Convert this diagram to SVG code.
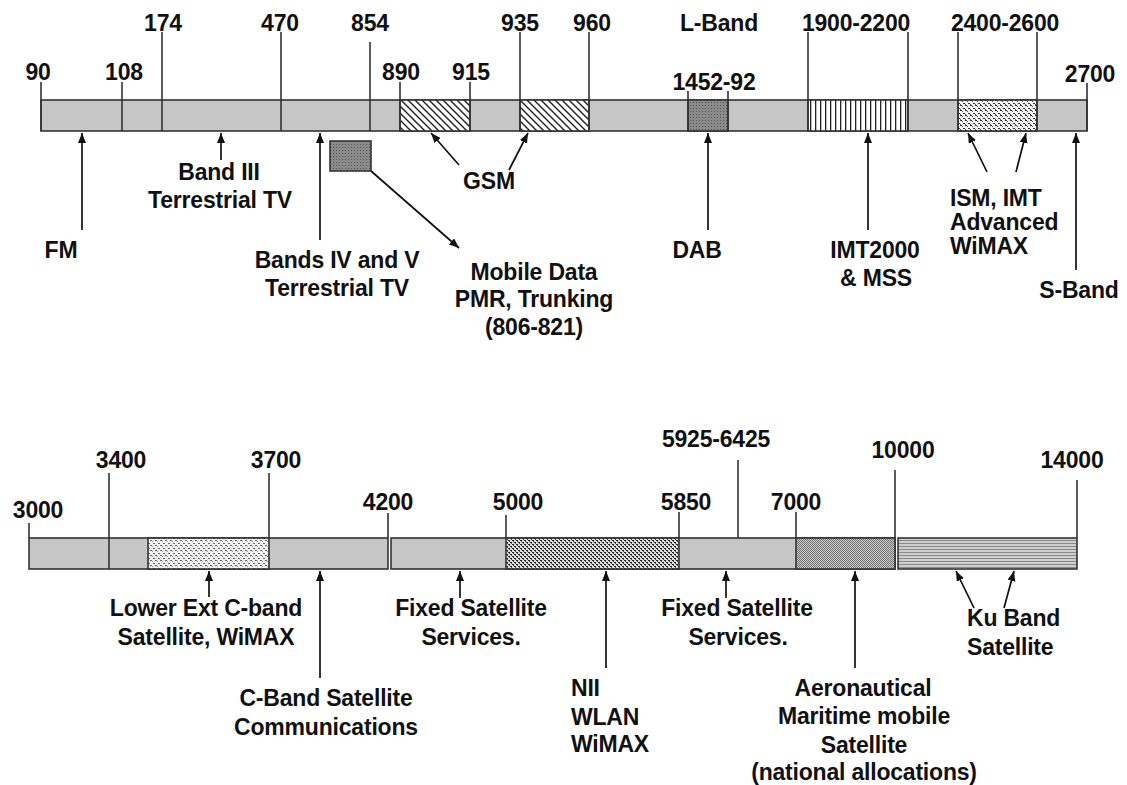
<svg xmlns="http://www.w3.org/2000/svg" width="1127" height="785" viewBox="0 0 1127 785">
<style>
text{font-family:"Liberation Sans",Arial,sans-serif;font-weight:bold;font-size:23px;letter-spacing:-0.2px;fill:#111}
.c{text-anchor:middle}
.bar{fill:#c6c6c6;stroke:#333;stroke-width:1.6}
.pat{stroke:#333;stroke-width:1.6}
.tk{stroke:#333;stroke-width:1.6;fill:none}
.ar{stroke:#111;stroke-width:1.7;fill:none;marker-end:url(#ah)}
</style>
<defs>
<marker id="ah" markerUnits="userSpaceOnUse" markerWidth="10" markerHeight="10" refX="10" refY="4" orient="auto"><path d="M0,0 L10,4 L0,8 z" fill="#111"/></marker>
<pattern id="diag" width="7" height="7" patternUnits="userSpaceOnUse"><rect width="7" height="7" fill="#fff"/><path d="M-1,-1 L8,8 M-1,6 L1,8 M6,-1 L8,1" stroke="#222" stroke-width="1.4"/></pattern>
<pattern id="vl" width="5" height="5" patternUnits="userSpaceOnUse"><rect width="5" height="5" fill="#fff"/><rect x="0" width="1.3" height="5" fill="#222"/></pattern>
<pattern id="dab" width="3" height="3" patternUnits="userSpaceOnUse"><rect width="3" height="3" fill="#8a8a8a"/><rect width="1" height="1" fill="#555"/></pattern>
<pattern id="ism" width="5" height="5" patternUnits="userSpaceOnUse"><rect width="5" height="5" fill="#f4f4f4"/><rect x="0" y="0" width="2" height="1" fill="#333"/><rect x="2" y="1" width="1" height="1" fill="#555"/><rect x="3" y="3" width="2" height="1" fill="#333"/><rect x="0" y="4" width="1" height="1" fill="#555"/></pattern>
<pattern id="lowext" width="5" height="5" patternUnits="userSpaceOnUse"><rect width="5" height="5" fill="#f2f2f2"/><rect x="0" y="0" width="2" height="1" fill="#666"/><rect x="3" y="3" width="2" height="1" fill="#666"/><rect x="2" y="1" width="1" height="1" fill="#999"/></pattern>
<pattern id="nii" width="4" height="4" patternUnits="userSpaceOnUse"><rect width="4" height="4" fill="#ddd"/><rect x="0" y="0" width="2" height="1" fill="#222"/><rect x="2" y="2" width="2" height="1" fill="#222"/><rect x="1" y="1" width="1" height="1" fill="#555"/><rect x="3" y="3" width="1" height="1" fill="#555"/></pattern>
<pattern id="chk" width="2" height="2" patternUnits="userSpaceOnUse"><rect width="2" height="2" fill="#c8c8c8"/><rect width="1" height="1" fill="#777"/><rect x="1" y="1" width="1" height="1" fill="#777"/></pattern>
<pattern id="hl" width="4" height="3" patternUnits="userSpaceOnUse"><rect width="4" height="3" fill="#cfcfcf"/><rect y="0" width="4" height="1" fill="#8a8a8a"/></pattern>
</defs>

<g id="top-bar">
<rect class="bar" x="41" y="100" width="1046" height="31"/>
<rect class="pat" x="400" y="100" width="70" height="31" fill="url(#diag)"/>
<rect class="pat" x="520" y="100" width="69" height="31" fill="url(#diag)"/>
<rect class="pat" x="688" y="100" width="40" height="31" fill="url(#dab)"/>
<rect class="pat" x="808" y="100" width="100" height="31" fill="url(#vl)"/>
<rect class="pat" x="958" y="100" width="79" height="31" fill="url(#ism)"/>
</g>
<g id="top-ticks">
<path class="tk" d="M41,82V131 M122,82V131 M162,32V131 M281,32V131 M370,42V131 M400,82V131 M470,82V131 M520,32V131 M589,32V131 M688,91V131 M728,91V131 M808,32V131 M908,32V131 M958,32V131 M1037,32V131 M1087,83V131"/>
</g>
<g id="top-values">
<text class="c" x="38" y="80">90</text>
<text class="c" x="124" y="80">108</text>
<text class="c" x="163" y="31">174</text>
<text class="c" x="280" y="31">470</text>
<text class="c" x="370" y="31">854</text>
<text class="c" x="401" y="80">890</text>
<text class="c" x="471" y="80">915</text>
<text class="c" x="520" y="31">935</text>
<text class="c" x="592" y="31">960</text>
<text class="c" x="719" y="31">L-Band</text>
<text class="c" x="714" y="90">1452-92</text>
<text class="c" x="856" y="31">1900-2200</text>
<text class="c" x="1005" y="31">2400-2600</text>
<text class="c" x="1090" y="82">2700</text>
</g>
<g id="mobile-box"><rect x="330" y="141" width="41" height="30" fill="url(#dab)" stroke="#333" stroke-width="1.6"/></g>

<g id="bottom-bar">
<rect class="bar" x="29" y="538" width="359" height="31"/>
<rect class="pat" x="148" y="538" width="121" height="31" fill="url(#lowext)"/>
<rect class="bar" x="391" y="538" width="504" height="31"/>
<rect class="pat" x="506" y="538" width="173" height="31" fill="url(#nii)"/>
<rect class="pat" x="796" y="538" width="99" height="31" fill="url(#chk)"/>
<rect class="pat" x="898" y="538" width="179" height="31" fill="url(#hl)"/>
</g>
<g id="bottom-ticks">
<path class="tk" d="M29,523V538 M109,473V569 M269,473V538 M388,513V538 M506,515V538 M679,512V538 M738,460V538 M796,512V538 M895,470V538 M1077,480V538"/>
</g>
<g id="bottom-values">
<text class="c" x="38" y="518">3000</text>
<text class="c" x="121" y="468">3400</text>
<text class="c" x="276" y="468">3700</text>
<text class="c" x="388" y="510">4200</text>
<text class="c" x="518" y="510">5000</text>
<text class="c" x="686" y="510">5850</text>
<text class="c" x="716" y="447">5925-6425</text>
<text class="c" x="796" y="510">7000</text>
<text class="c" x="903" y="458">10000</text>
<text class="c" x="1072" y="468">14000</text>
</g>

<g id="connectors">
<path class="ar" d="M82,230V133"/>
<path class="ar" d="M221,160V133"/>
<path class="ar" d="M320,240V133"/>
<path class="ar" d="M371,171L459,248"/>
<path class="ar" d="M459,165L431,133"/>
<path class="ar" d="M509,170L528,133"/>
<path class="ar" d="M708,230V133"/>
<path class="ar" d="M868,230V133"/>
<path class="ar" d="M987,172L968,133"/>
<path class="ar" d="M1016,172L1026,133"/>
<path class="ar" d="M1076,270V133"/>
<path class="ar" d="M209,597V571"/>
<path class="ar" d="M320,678V571"/>
<path class="ar" d="M460,598V571"/>
<path class="ar" d="M606,668V571"/>
<path class="ar" d="M726,598V571"/>
<path class="ar" d="M855,668V571"/>
<path class="ar" d="M974,608L956,571"/>
<path class="ar" d="M1004,608L1014,571"/>
</g>

<g id="label-fm"><text class="c" x="61" y="258">FM</text></g>
<g id="label-band3"><text class="c" x="219" y="180">Band III</text><text class="c" x="220" y="208">Terrestrial TV</text></g>
<g id="label-band45"><text class="c" x="337" y="268">Bands IV and V</text><text class="c" x="337" y="296">Terrestrial TV</text></g>
<g id="label-mobile"><text class="c" x="534" y="280">Mobile Data</text><text class="c" x="534" y="307">PMR, Trunking</text><text class="c" x="534" y="335">(806-821)</text></g>
<g id="label-gsm"><text class="c" x="489" y="189">GSM</text></g>
<g id="label-dab"><text class="c" x="697" y="258">DAB</text></g>
<g id="label-imt2000"><text class="c" x="875" y="258">IMT2000</text><text class="c" x="876" y="286">&amp; MSS</text></g>
<g id="label-ism"><text x="950" y="206">ISM, IMT</text><text x="950" y="230">Advanced</text><text x="950" y="254">WiMAX</text></g>
<g id="label-sband"><text class="c" x="1079" y="298">S-Band</text></g>

<g id="label-lowext"><text class="c" x="206" y="616">Lower Ext C-band</text><text class="c" x="206" y="645">Satellite, WiMAX</text></g>
<g id="label-cband"><text class="c" x="326" y="706">C-Band Satellite</text><text class="c" x="326" y="735">Communications</text></g>
<g id="label-fss1"><text class="c" x="471" y="616">Fixed Satellite</text><text class="c" x="471" y="645">Services.</text></g>
<g id="label-nii"><text x="571" y="696">NII</text><text x="571" y="725">WLAN</text><text x="571" y="752">WiMAX</text></g>
<g id="label-fss2"><text class="c" x="737" y="616">Fixed Satellite</text><text class="c" x="738" y="645">Services.</text></g>
<g id="label-aero"><text class="c" x="863" y="696">Aeronautical</text><text class="c" x="864" y="724">Maritime mobile</text><text class="c" x="864" y="753">Satellite</text><text class="c" x="864" y="780">(national allocations)</text></g>
<g id="label-ku"><text x="967" y="626">Ku Band</text><text x="967" y="655">Satellite</text></g>
</svg>
